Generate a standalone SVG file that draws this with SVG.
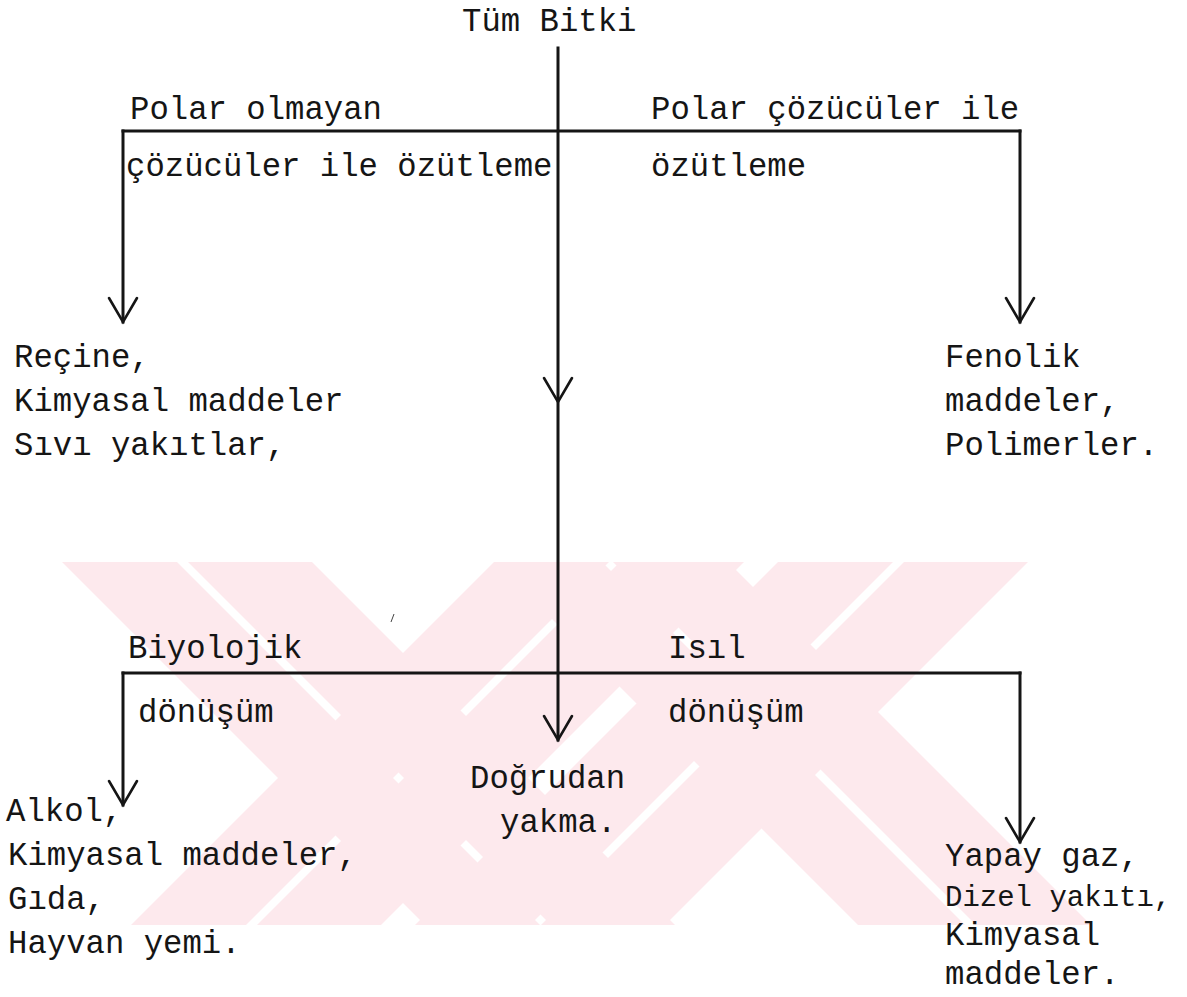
<svg xmlns="http://www.w3.org/2000/svg" width="1187" height="997" viewBox="0 0 1187 997">
<defs>
<style>
text{font-family:"Liberation Mono","DejaVu Sans Mono",monospace;font-size:32.3px;fill:#151515}
.ln{stroke:#151515;stroke-width:3;fill:none;stroke-linecap:square}
.ah{stroke:#151515;stroke-width:2.6;fill:none;stroke-linecap:round;stroke-linejoin:miter}
.wm{fill:#fde9ed}
</style>
<clipPath id="band"><rect x="0" y="562" width="1187" height="363"/></clipPath>
</defs>
<rect width="1187" height="997" fill="#ffffff"/>
<g id="watermark" clip-path="url(#band)">
<polygon class="wm" points="62,562 177,562 540,925 425,925"/>
<polygon class="wm" points="188,562 312,562 675,925 551,925"/>
<polygon class="wm" points="131,925 246,925 609,562 494,562"/>
<polygon class="wm" points="257,925 381,925 744,562 620,562"/>
<polygon class="wm" points="778,562 893,562 530,925 415,925"/>
<polygon class="wm" points="904,562 1028,562 665,925 541,925"/>
<polygon class="wm" points="495,562 602,562 965,925 858,925"/>
<polygon class="wm" points="613,562 728,562 1091,925 976,925"/>
</g>
<g id="connectors">
<line class="ln" x1="558" y1="48" x2="558" y2="740"/>
<line class="ln" x1="123" y1="131" x2="1020" y2="131"/>
<line class="ln" x1="123" y1="131" x2="123" y2="322"/>
<line class="ln" x1="1020" y1="131" x2="1020" y2="322"/>
<line class="ln" x1="123" y1="673" x2="1020" y2="673"/>
<line class="ln" x1="123" y1="673" x2="123" y2="805"/>
<line class="ln" x1="1020" y1="673" x2="1020" y2="842"/>
<polyline class="ah" points="109,298 123,322 137,298"/>
<polyline class="ah" points="1006,298 1020,322 1034,298"/>
<polyline class="ah" points="544,378 558,402 572,378"/>
<polyline class="ah" points="544,716 558,740 572,716"/>
<polyline class="ah" points="109,781 123,805 137,781"/>
<polyline class="ah" points="1006,818 1020,842 1034,818"/>
<line x1="394" y1="614" x2="391" y2="622" stroke="#444" stroke-width="1"/>
</g>
<g id="n-root"><text x="462" y="31">Tüm Bitki</text></g>
<g id="n-nonpolar-label"><text x="130" y="119">Polar olmayan</text><text x="126" y="176">çözücüler ile özütleme</text></g>
<g id="n-polar-label"><text x="651" y="119">Polar çözücüler ile</text><text x="651" y="176">özütleme</text></g>
<g id="n-recine"><text x="14" y="367">Reçine,</text><text x="14" y="411">Kimyasal maddeler</text><text x="14" y="455">Sıvı yakıtlar,</text></g>
<g id="n-fenolik"><text x="945" y="367">Fenolik</text><text x="945" y="411">maddeler,</text><text x="945" y="455">Polimerler.</text></g>
<g id="n-bio-label"><text x="128" y="658">Biyolojik</text><text x="138" y="722">dönüşüm</text></g>
<g id="n-isil-label"><text x="668" y="658">Isıl</text><text x="668" y="722">dönüşüm</text></g>
<g id="n-dogrudan"><text x="470" y="788">Doğrudan</text><text x="500" y="832">yakma.</text></g>
<g id="n-alkol"><text x="6" y="821">Alkol,</text><text x="8" y="865">Kimyasal maddeler,</text><text x="8" y="909">Gıda,</text><text x="8" y="953">Hayvan yemi.</text></g>
<g id="n-yapay"><text x="945" y="866">Yapay gaz,</text><text x="945" y="906" style="font-size:29px">Dizel yakıtı,</text><text x="945" y="945">Kimyasal</text><text x="945" y="984">maddeler.</text></g>
</svg>
